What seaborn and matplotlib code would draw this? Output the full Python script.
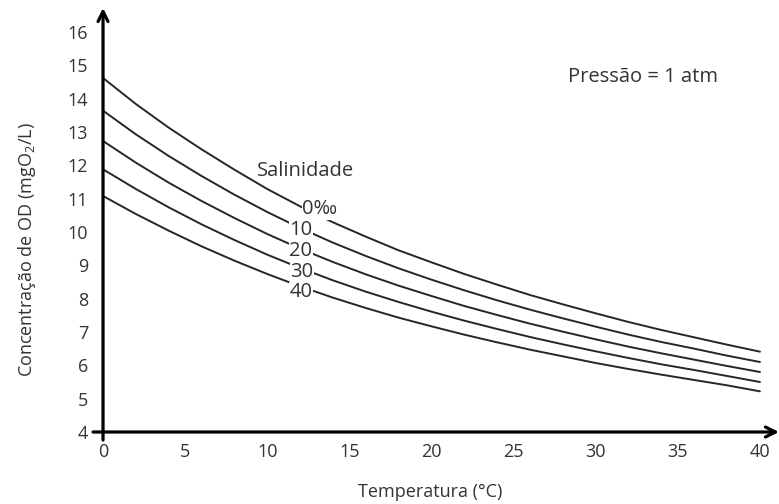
import numpy as np
import pandas as pd
import matplotlib
matplotlib.use("Agg")
import matplotlib.pyplot as plt
import seaborn as sns

# ---- data ----
temperature = [0, 2, 4, 6, 8, 10, 12, 14, 16, 18, 20, 22, 24, 26, 28, 30, 32, 34, 36, 38, 40]
do_s0 = [14.62, 13.84, 13.13, 12.48, 11.87, 11.29, 10.77, 10.29, 9.86, 9.45, 9.09,
         8.74, 8.42, 8.11, 7.83, 7.56, 7.30, 7.06, 6.84, 6.62, 6.41]
do_s10 = [13.64, 12.93, 12.28, 11.68, 11.12, 10.60, 10.12, 9.68, 9.28, 8.91, 8.57,
          8.25, 7.95, 7.67, 7.41, 7.16, 6.92, 6.70, 6.50, 6.29, 6.10]
do_s20 = [12.73, 12.08, 11.48, 10.93, 10.42, 9.94, 9.50, 9.10, 8.73, 8.39, 8.08,
          7.78, 7.51, 7.25, 7.01, 6.78, 6.56, 6.36, 6.17, 5.98, 5.80]
do_s30 = [11.88, 11.29, 10.74, 10.23, 9.76, 9.32, 8.92, 8.55, 8.21, 7.90, 7.61,
          7.34, 7.09, 6.85, 6.63, 6.42, 6.22, 6.03, 5.86, 5.68, 5.50]
do_s40 = [11.08, 10.54, 10.04, 9.57, 9.14, 8.74, 8.37, 8.03, 7.72, 7.43, 7.17,
          6.92, 6.69, 6.47, 6.27, 6.07, 5.89, 5.72, 5.56, 5.40, 5.22]
salinity_labels = ["0‰", "10", "20", "30", "40"]
x_ticks = [0, 5, 10, 15, 20, 25, 30, 35, 40]
y_ticks = [4, 5, 6, 7, 8, 9, 10, 11, 12, 13, 14, 15, 16]

series = [do_s0, do_s10, do_s20, do_s30, do_s40]
df = pd.concat(
    [pd.DataFrame({"Temperatura": temperature, "OD": s, "Salinidade": lab})
     for s, lab in zip(series, salinity_labels)],
    ignore_index=True,
)

sns.set_theme(style="white")
FONT = ["Open Sans", "DejaVu Sans"]
plt.rcParams["font.family"] = FONT
plt.rcParams["mathtext.fontset"] = "custom"
plt.rcParams["mathtext.rm"] = "Open Sans"
plt.rcParams["mathtext.default"] = "regular"

W, H = 779, 504
fig = plt.figure(figsize=(W / 100, H / 100), dpi=100)
ax = fig.add_axes([93 / W, (H - 440) / H, 686 / W, 432 / H])

line_color = "#262626"
sns.lineplot(data=df, x="Temperatura", y="OD", hue="Salinidade",
             palette=[line_color] * 5, linewidth=1.4, legend=False, ax=ax,
             sort=False)

ax.set_xlim(-0.61, 41.16)
ax.set_ylim(3.76, 16.72)
for sp in ax.spines.values():
    sp.set_visible(False)

FS = 13
TXT = "#333333"
ax.set_xticks(x_ticks)
ax.set_yticks(y_ticks)
ax.tick_params(axis="both", length=0, labelsize=FS, colors=TXT)
ax.tick_params(axis="x", pad=2.0)
ax.tick_params(axis="y", pad=3.5)

# axes with arrows
arrow_kw = dict(arrowstyle="->", lw=2.3, color="black", mutation_scale=18,
                shrinkA=0, shrinkB=0)
ax.annotate("", xy=(41.16, 4), xytext=(-0.61, 4), xycoords="data",
            arrowprops=arrow_kw, annotation_clip=False)
ax.annotate("", xy=(0, 16.72), xytext=(0, 3.76), xycoords="data",
            arrowprops=arrow_kw, annotation_clip=False)

ax.set_xlabel("Temperatura (°C)", fontsize=FS, color=TXT)
ax.set_ylabel("Concentração de OD (mgO$_2$/L)", fontsize=FS, color=TXT)
ax.xaxis.set_label_coords(0.491, -0.10)
ax.yaxis.set_label_coords(-0.080, 0.44)

# annotations
AFS = 14.5
ax.text(32.9, 14.65, "Pressão = 1 atm", fontsize=AFS, color=TXT,
        ha="center", va="center")
ax.text(12.3, 11.83, "Salinidade", fontsize=AFS, color=TXT,
        ha="center", va="center")
label_pos = [(13.2, 10.68), (12.05, 10.06), (12.05, 9.42), (12.1, 8.79), (12.05, 8.2)]
for (lx, ly), lab in zip(label_pos, salinity_labels):
    ax.text(lx, ly, lab, fontsize=AFS, color=TXT, ha="center", va="center",
            zorder=5, bbox=dict(facecolor="white", edgecolor="none", pad=0.2))

fig.savefig("out.png", dpi=100)
